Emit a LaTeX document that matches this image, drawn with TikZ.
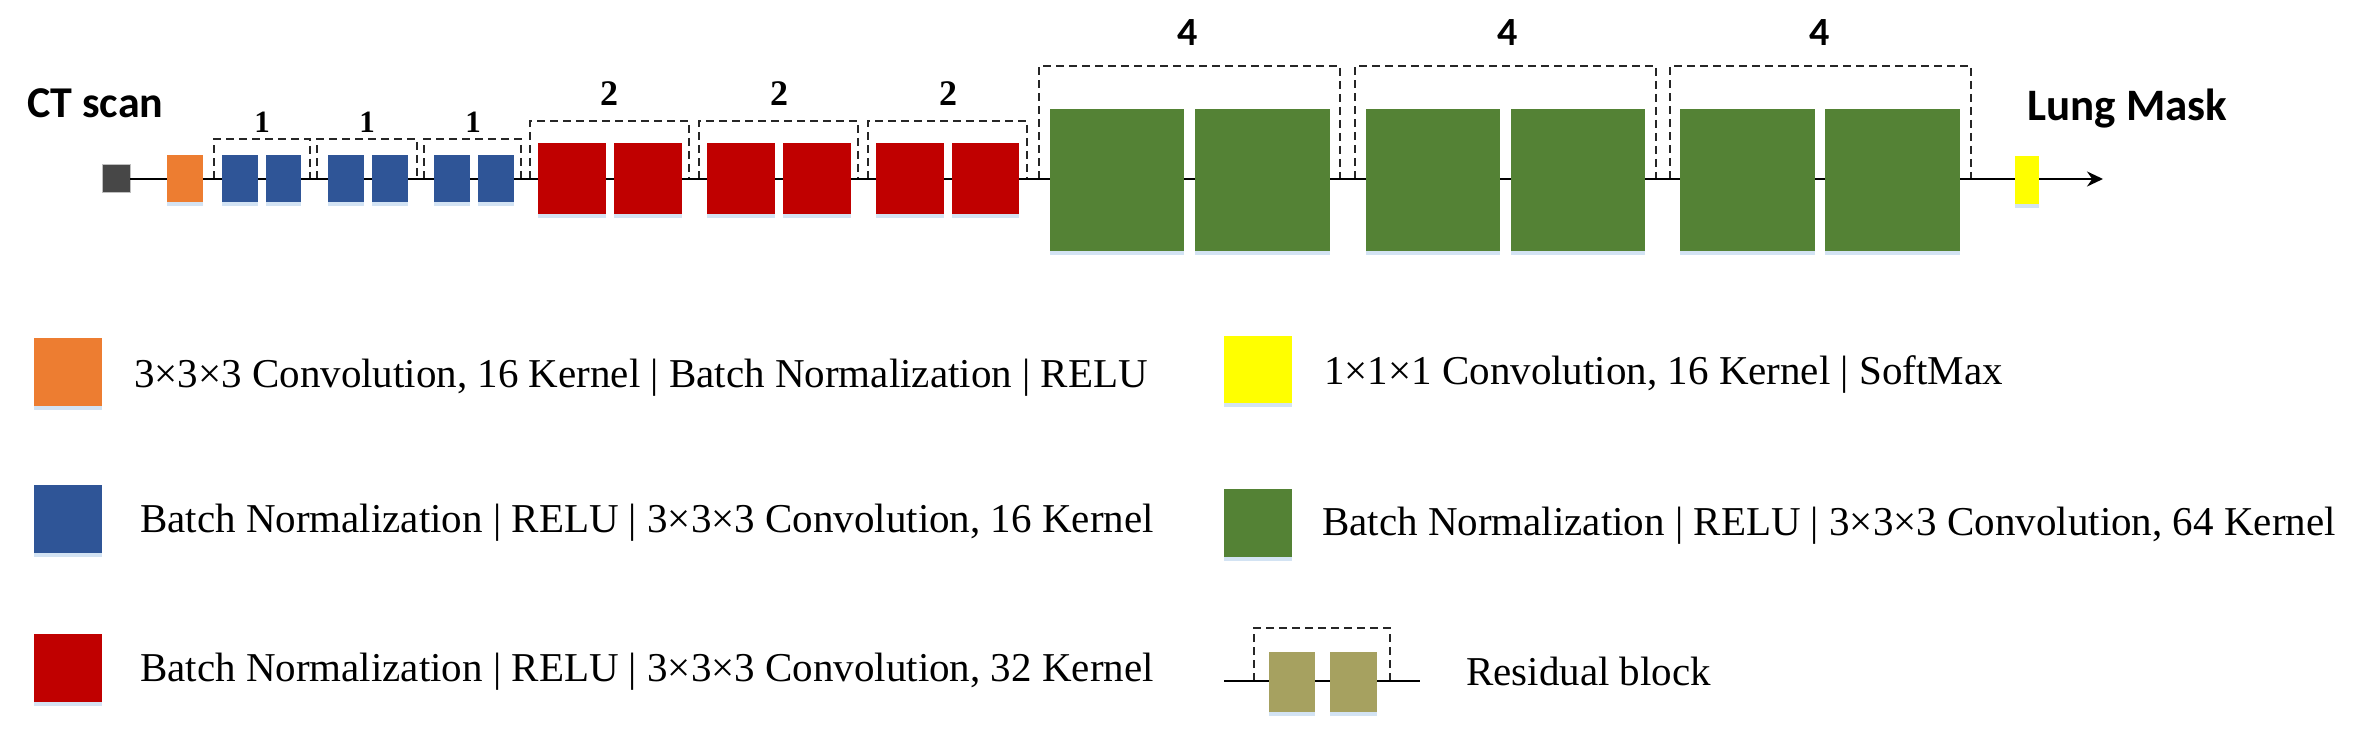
\documentclass[tikz,border=0pt]{standalone}
\usepackage{fontspec}
\setmainfont{Liberation Serif}
\newfontfamily\calfont{Carlito}
\usetikzlibrary{arrows.meta,shadows}
\definecolor{cgray}{HTML}{474747}
\definecolor{corange}{HTML}{ED7D31}
\definecolor{cblue}{HTML}{2F5597}
\definecolor{cred}{HTML}{C00000}
\definecolor{cgreen}{HTML}{548235}
\definecolor{cyellow}{HTML}{FFFF00}
\definecolor{colive}{HTML}{A6A160}
\definecolor{cglow}{HTML}{D3E3F3}
\newcommand{\blockat}[6]{\node[blk,fill=#2,minimum width={#4-#3},minimum height={#5}] (#1) at ({(#3+#4)/2},#6) {};}
\newcommand{\legsq}[6]{\node[blk,fill=#2,minimum width={#5-#3},minimum height={#6-#4}] (#1) at ({(#3+#5)/2},{(#4+#6)/2}) {};}
\newcommand{\skipbox}[3]{\draw[dashbox] (#1,179) -- (#1,#3) -- (#2,#3) -- (#2,179);}
\begin{document}
\begin{tikzpicture}[x=1pt,y=-1pt,
  blk/.style={draw=none,inner sep=0pt,outer sep=0pt,general shadow={fill=cglow,shadow yshift=-4pt}},
  mainline/.style={draw=black,line width=2.4pt},
  dashbox/.style={draw=black!85,line width=1.8pt,dash pattern=on 8pt off 5pt},
  legtext/.style={anchor=base west,inner sep=0pt,font=\fontsize{41}{48}\selectfont},
  titletext/.style={anchor=base west,inner sep=0pt,font=\calfont\bfseries\fontsize{44}{50}\selectfont},
  numone/.style={anchor=base,inner sep=0pt,font=\bfseries\fontsize{31}{36}\selectfont},
  numtwo/.style={anchor=base,inner sep=0pt,font=\bfseries\fontsize{36}{42}\selectfont},
  numfour/.style={anchor=base,inner sep=0pt,font=\calfont\bfseries\fontsize{40}{46}\selectfont}]
\useasboundingbox (0,0) rectangle (2356,735);
\fill[white] (0,0) rectangle (2356,735);
\coordinate (ln) at (0,179);
\coordinate (out) at (2103,179);

% skip connections (dashed)
\skipbox{214}{310}{139}
\skipbox{317}{417}{139}
\skipbox{424}{521}{139}
\skipbox{530}{689}{121}
\skipbox{699}{858}{121}
\skipbox{868}{1027}{121}
\skipbox{1039}{1340}{66}
\skipbox{1355}{1656}{66}
\skipbox{1670}{1971}{66}

% blocks
\node[draw=black!25,line width=1pt,fill=cgray,inner sep=0pt,outer sep=0pt,minimum width=28pt,minimum height=28pt] (gray) at (116,179) {};
\blockat{or}{corange}{167}{203}{47}{179}
\blockat{b1}{cblue}{222}{258}{47}{179}
\blockat{b2}{cblue}{266}{301}{47}{179}
\blockat{b3}{cblue}{328}{364}{47}{179}
\blockat{b4}{cblue}{372}{408}{47}{179}
\blockat{b5}{cblue}{434}{470}{47}{179}
\blockat{b6}{cblue}{478}{514}{47}{179}
\blockat{r1}{cred}{538}{606}{71}{179}
\blockat{r2}{cred}{614}{682}{71}{179}
\blockat{r3}{cred}{707}{775}{71}{179}
\blockat{r4}{cred}{783}{851}{71}{179}
\blockat{r5}{cred}{876}{944}{71}{179}
\blockat{r6}{cred}{952}{1019}{71}{179}
\blockat{g1}{cgreen}{1050}{1184}{142}{180}
\blockat{g2}{cgreen}{1195}{1330}{142}{180}
\blockat{g3}{cgreen}{1366}{1500}{142}{180}
\blockat{g4}{cgreen}{1511}{1645}{142}{180}
\blockat{g5}{cgreen}{1680}{1815}{142}{180}
\blockat{g6}{cgreen}{1825}{1960}{142}{180}
\blockat{yel}{cyellow}{2015}{2039}{48}{180}

% main line
\foreach \a/\b in {gray/or,or/b1,b1/b2,b2/b3,b3/b4,b4/b5,b5/b6,b6/r1,r1/r2,r2/r3,r3/r4,r4/r5,r5/r6,r6/g1,g1/g2,g2/g3,g3/g4,g4/g5,g5/g6,g6/yel}
  \draw[mainline] (\a.east |- ln) -- (\b.west |- ln);
\draw[mainline,-{Stealth[length=16pt,width=15pt]}] (yel.east |- ln) -- (out);

% titles
\node[titletext] (ct) at (27,118) {CT scan};
\node[titletext,font=\calfont\bfseries\fontsize{45}{50}\selectfont] (lm) at (2027,121) {Lung Mask};

% repeat counts
\node[numone] (n1) at (262,133) {1};
\node[numone] (n2) at (367,133) {1};
\node[numone] (n3) at (473,133) {1};
\node[numtwo] (n4) at (609,106) {2};
\node[numtwo] (n5) at (779,106) {2};
\node[numtwo] (n6) at (948,106) {2};
\node[numfour] (n7) at (1188,46) {4};
\node[numfour] (n8) at (1508,46) {4};
\node[numfour] (n9) at (1820,46) {4};

% legend
\legsq{lor}{corange}{34}{338}{102}{406}
\legsq{lbl}{cblue}{34}{485}{102}{553}
\legsq{lrd}{cred}{34}{634}{102}{702}
\legsq{lye}{cyellow}{1224}{336}{1292}{403}
\legsq{lgr}{cgreen}{1224}{489}{1292}{557}
\node[legtext] (t1) at (134,387) {3×3×3 Convolution, 16 Kernel | Batch Normalization | RELU};
\node[legtext] (t2) at (140,532) {Batch Normalization | RELU | 3×3×3 Convolution, 16 Kernel};
\node[legtext] (t3) at (140,681) {Batch Normalization | RELU | 3×3×3 Convolution, 32 Kernel};
\node[legtext] (t4) at (1324,384) {1×1×1 Convolution, 16 Kernel | SoftMax};
\node[legtext] (t5) at (1322,535) {Batch Normalization | RELU | 3×3×3 Convolution, 64 Kernel};

% residual block legend
\coordinate (ra) at (1224,681);
\coordinate (rb) at (1420,681);
\draw[dashbox] (1254,681) -- (1254,628) -- (1390,628) -- (1390,681);
\legsq{ro1}{colive}{1269}{652}{1315}{712}
\legsq{ro2}{colive}{1330}{652}{1377}{712}
\draw[mainline,line width=2pt] (ra) -- (ro1.west |- ra);
\draw[mainline,line width=2pt] (ro1.east |- ra) -- (ro2.west |- ra);
\draw[mainline,line width=2pt] (ro2.east |- ra) -- (rb);
\node[legtext] (t6) at (1466,685) {Residual block};
\end{tikzpicture}
\end{document}
